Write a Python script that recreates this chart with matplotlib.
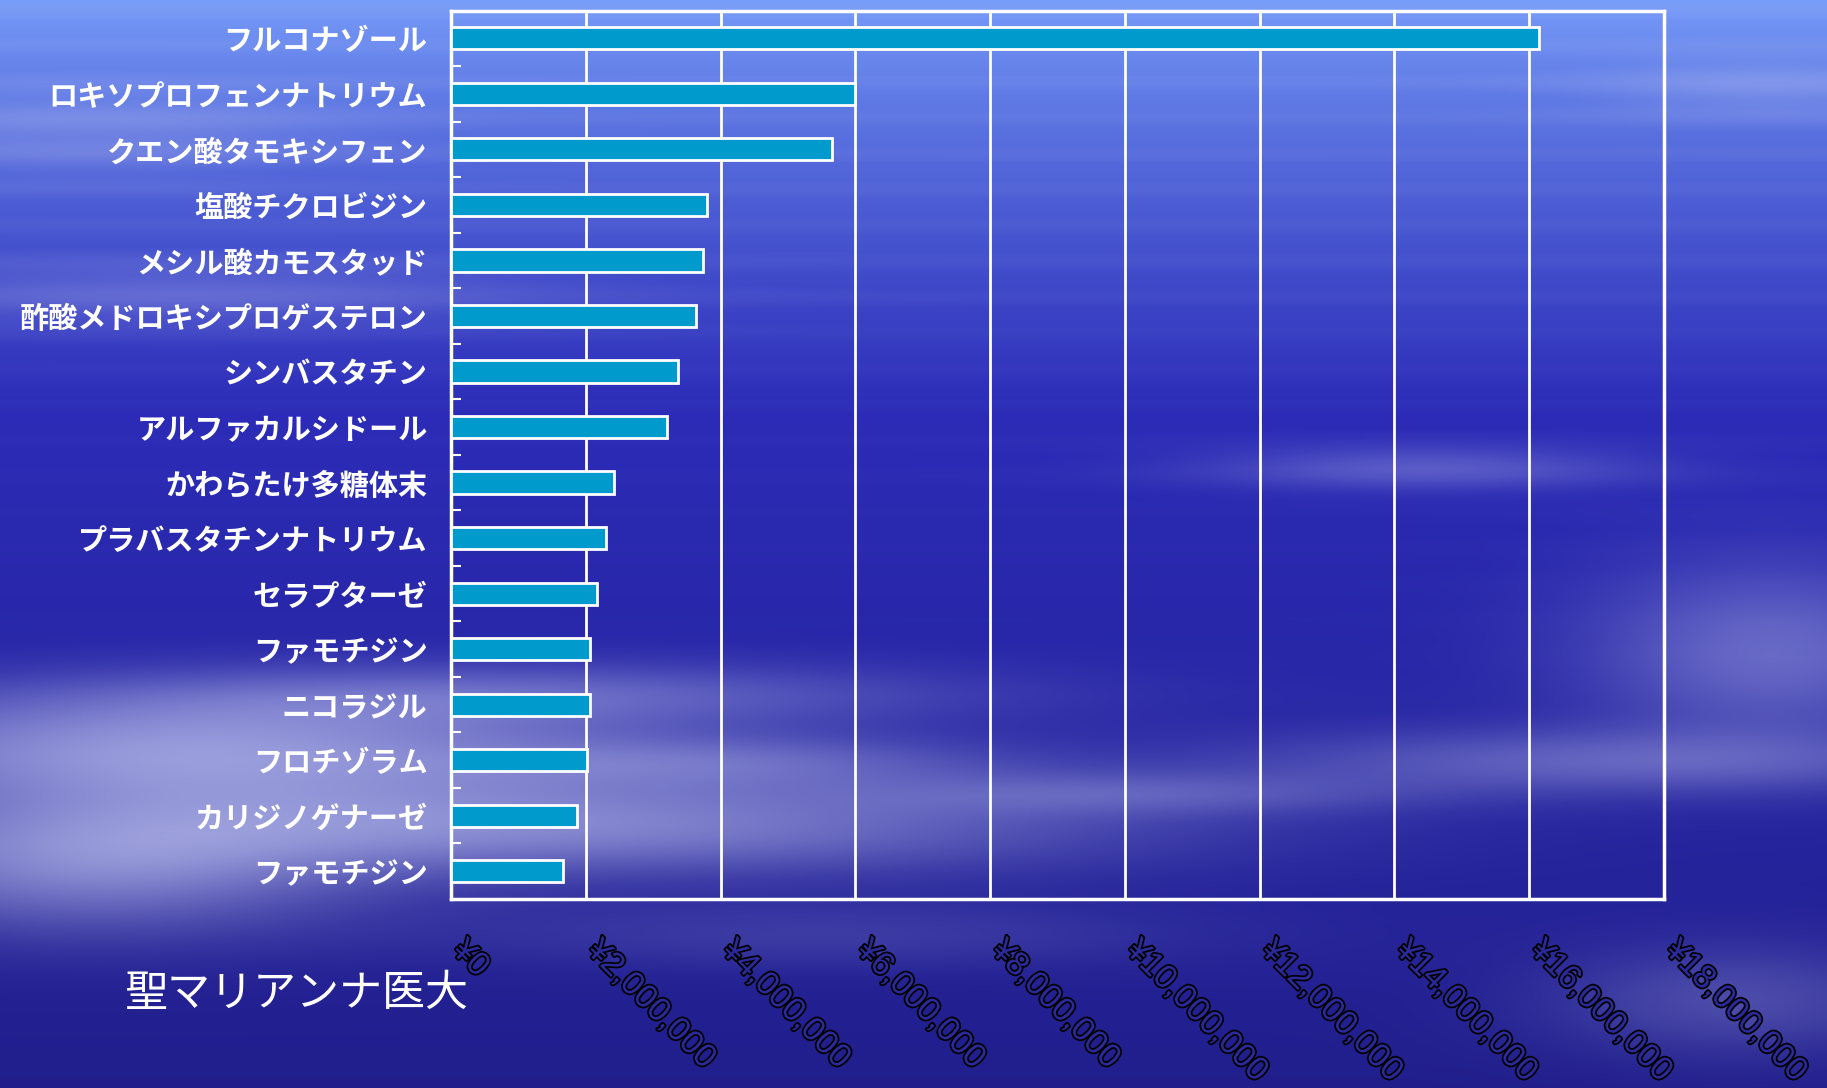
import numpy as np
import matplotlib.pyplot as plt
import matplotlib.patheffects as pe
from matplotlib.ticker import FixedLocator

plt.rcParams['font.family'] = ['Noto Sans CJK JP', 'DejaVu Sans']

drugs = ['フルコナゾール', 'ロキソプロフェンナトリウム', 'クエン酸タモキシフェン',
         '塩酸チクロビジン', 'メシル酸カモスタッド', '酢酸メドロキシプロゲステロン',
         'シンバスタチン', 'アルファカルシドール', 'かわらたけ多糖体末',
         'プラバスタチンナトリウム', 'セラプターゼ', 'ファモチジン', 'ニコラジル',
         'フロチゾラム', 'カリジノゲナーゼ', 'ファモチジン']
amounts = [16150000, 6000000, 5650000, 3800000, 3740000, 3630000, 3370000, 3200000,
           2420000, 2300000, 2160000, 2060000, 2060000, 2020000, 1870000, 1660000]
xticks = [0, 2000000, 4000000, 6000000, 8000000, 10000000, 12000000, 14000000,
          16000000, 18000000]
hospital = '聖マリアンナ医大'

fig = plt.figure(figsize=(18.27, 10.88), dpi=100)

# sky backdrop: vertical gradient with soft cloud bands
h, w = 544, 914
yy, xx = np.mgrid[0:1:h * 1j, 0:1:w * 1j]
top = np.array([0.47, 0.62, 0.98])
mid = np.array([0.17, 0.17, 0.72])
low = np.array([0.13, 0.12, 0.55])
t1 = np.clip(yy / 0.38, 0, 1)[..., None] ** 0.8
t2 = np.clip((yy - 0.38) / 0.62, 0, 1)[..., None]
bg = top * (1 - t1) + mid * t1
bg = bg * (1 - t2) + low * t2

def cloud(cx, cy, sx, sy, a):
    return a * np.exp(-((xx - cx) / sx) ** 2 - ((yy - cy) / sy) ** 2)

haze = (cloud(0.10, 0.69, 0.22, 0.05, 0.65) + cloud(0.30, 0.76, 0.30, 0.045, 0.55)
        + cloud(0.05, 0.80, 0.15, 0.06, 0.50) + cloud(0.28, 0.64, 0.25, 0.03, 0.35)
        + cloud(0.40, 0.70, 0.15, 0.025, 0.30)
        + cloud(0.78, 0.43, 0.12, 0.02, 0.30) + cloud(0.97, 0.60, 0.10, 0.08, 0.40)
        + cloud(0.88, 0.70, 0.20, 0.03, 0.35) + cloud(0.62, 0.73, 0.15, 0.02, 0.25)
        + cloud(0.10, 0.27, 0.20, 0.03, 0.25) + cloud(0.05, 0.12, 0.15, 0.04, 0.25)
        + cloud(0.97, 0.08, 0.10, 0.03, 0.25) + cloud(0.45, 0.86, 0.20, 0.03, 0.15)
        + cloud(0.95, 0.92, 0.10, 0.05, 0.25))
streaks = 0.06 * np.sin(yy * 190) * np.exp(-(yy / 0.33) ** 2)
haze = np.clip(haze + streaks, 0, 1)[..., None]
cloud_col = np.array([0.78, 0.80, 0.95])
bg = bg * (1 - haze) + cloud_col * haze

bgax = fig.add_axes([0, 0, 1, 1], zorder=-1)
bgax.imshow(np.clip(bg, 0, 1), aspect='auto', extent=[0, 1, 0, 1], interpolation='bicubic')
bgax.axis('off')

ax = fig.add_axes([0.2469, 0.1737, 0.9108 - 0.2469, 0.9903 - 0.1737])
ax.patch.set_alpha(0)

pos = np.arange(len(drugs))
ax.barh(pos, amounts, height=0.4, color='#009acd', edgecolor='white', linewidth=2, zorder=3)
ax.set_ylim(len(drugs) - 0.5, -0.5)
ax.set_xlim(0, 18000000)

ax.set_yticks(pos)
ax.set_yticklabels(drugs, color='white', fontsize=21, fontweight='bold')
ax.yaxis.set_minor_locator(FixedLocator(pos[:-1] + 0.5))
ax.tick_params(axis='y', which='major', length=0, pad=17)
ax.tick_params(axis='y', which='minor', direction='in', length=7, width=1.5, color='white')

# hollow yen labels running diagonally under each gridline
ax.set_xticks(xticks)
ax.set_xticklabels(['¥{:,}'.format(v) for v in xticks], rotation=-45, ha='left', va='baseline',
                   rotation_mode='anchor', fontsize=24, color='#2a2a9c',
                   family=['Liberation Sans', 'DejaVu Sans'])
for lab in ax.get_xticklabels():
    lab.set_path_effects([pe.withStroke(linewidth=2.5, foreground='black')])
ax.tick_params(axis='x', length=0, pad=38)

ax.grid(axis='x', color='white', linewidth=2, zorder=1)
ax.set_axisbelow(True)
for s in ax.spines.values():
    s.set_color('white')
    s.set_linewidth(2.5)

fig.text(0.068, 0.087, hospital, color='white', fontsize=31, va='center', ha='left')

fig.savefig('out.png', dpi=100)
